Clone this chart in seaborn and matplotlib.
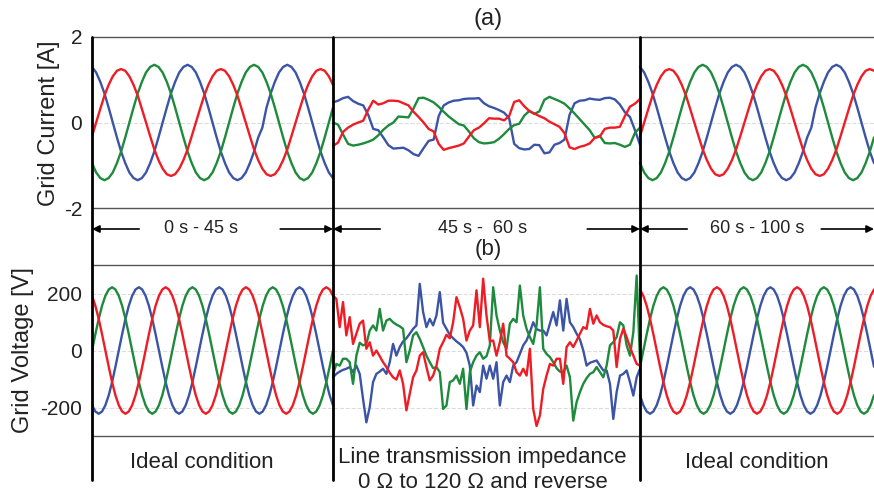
import numpy as np
import pandas as pd
import matplotlib
matplotlib.use("Agg")
import matplotlib.pyplot as plt
from matplotlib.lines import Line2D
import seaborn as sns

sns.set_theme(style="white")
plt.rcParams["font.family"] = ["Liberation Sans", "DejaVu Sans"]

# time axis in display units (one current cycle = 1); three test intervals
seg_edges = [0.0, 2.41, 5.48, 7.82]
seg_names = ["0 s - 45 s", "45 s -  60 s", "60 s - 100 s"]
conditions = ["Ideal condition",
              "Line transmission impedance\n0 \u03a9 to 120 \u03a9 and reverse",
              "Ideal condition"]

# ---- grid current [A] ----
cur1_blue = [1.30, 1.17, 0.95, 0.68, 0.35, 0.00, -0.35, -0.68, -0.95, -1.17, -1.30, -1.35,
             -1.30, -1.17, -0.95, -0.68, -0.35, 0.00, 0.35, 0.68, 0.95, 1.17, 1.30,
             1.35, 1.30, 1.17, 0.95, 0.68, 0.35, 0.00, -0.35, -0.68, -0.95, -1.17, -1.30,
             -1.35, -1.30, -1.17, -0.95, -0.68, -0.35, -0.12, 0.35, 0.68, 0.95, 1.17, 1.30,
             1.35, 1.30, 1.17, 0.95, 0.68, 0.35, 0.00, -0.35, -0.68, -0.95, -1.17, -1.30]
cur1_red = [-0.32, 0.00, 0.32, 0.63, 0.88, 1.08, 1.21,
            1.25, 1.21, 1.08, 0.88, 0.63, 0.32, 0.00, -0.32, -0.63, -0.88, -1.08, -1.21,
            -1.25, -1.21, -1.08, -0.88, -0.63, -0.32, 0.00, 0.32, 0.63, 0.88, 1.08, 1.21,
            1.25, 1.21, 1.08, 0.88, 0.63, 0.32, 0.00, -0.32, -0.63, -0.88, -1.08, -1.21,
            -1.25, -1.21, -1.08, -0.88, -0.63, -0.32, 0.00, 0.32, 0.63, 0.88, 1.08, 1.21,
            1.25, 1.21, 1.08, 0.88]
cur1_green = [-0.95, -1.17, -1.30, -1.35, -1.30, -1.17, -0.95, -0.68, -0.35, 0.00, 0.35,
              0.68, 0.95, 1.17, 1.30,
              1.35, 1.30, 1.17, 0.95, 0.68, 0.35, 0.00, -0.35, -0.68, -0.95, -1.17, -1.30,
              -1.35, -1.30, -1.17, -0.95, -0.68, -0.35, 0.00, 0.35, 0.68, 0.95, 1.17, 1.30,
              1.35, 1.30, 1.17, 0.95, 0.68, 0.35, 0.00, -0.35, -0.68, -0.95, -1.17, -1.30,
              -1.35, -1.30, -1.17, -0.95, -0.68, -0.35, 0.00, 0.35]
cur2_blue = [0.47, 0.51, 0.57, 0.60, 0.50, 0.44, 0.40, 0.18, -0.15, -0.18, -0.35, -0.53,
             -0.61, -0.60, -0.59, -0.65, -0.74, -0.78, -0.60, -0.43, -0.40, 0.15, 0.40, 0.47,
             0.51, 0.52, 0.55, 0.56, 0.56, 0.57, 0.45, 0.38, 0.34, 0.29, 0.23, 0.10,
             -0.50, -0.60, -0.63, -0.62, -0.52, -0.53, -0.72, -0.70, -0.52, -0.48, -0.40, 0.18,
             0.45, 0.51, 0.52, 0.56, 0.54, 0.53, 0.57, 0.58, 0.54, 0.42, 0.24, 0.13, -0.18, -0.52]
cur2_red = [-0.55, -0.47, -0.22, -0.12, -0.05, 0.00, 0.04, 0.30, 0.51, 0.42, 0.45, 0.51,
            0.51, 0.50, 0.45, 0.40, 0.25, 0.13, 0.00, -0.15, -0.21, -0.50, -0.64, -0.60,
            -0.57, -0.54, -0.49, -0.33, -0.18, -0.12, -0.02, 0.10, 0.09, 0.09, 0.05, 0.15,
            0.48, 0.52, 0.38, 0.27, 0.21, 0.15, 0.10, 0.02, -0.04, -0.10, -0.25, -0.58,
            -0.62, -0.57, -0.54, -0.49, -0.36, -0.33, -0.15, -0.12, -0.12, -0.10, 0.15, 0.37, 0.44, 0.55]
cur2_green = [0.00, -0.05, -0.28, -0.50, -0.54, -0.52, -0.49, -0.45, -0.40, -0.30,
              -0.17, -0.07, 0.00, 0.14, 0.13, 0.12, 0.33, 0.57, 0.58, 0.53,
              0.47, 0.37, 0.25, 0.14, 0.05, -0.04, -0.07, -0.21, -0.37, -0.46,
              -0.49, -0.48, -0.46, -0.38, -0.27, -0.15, -0.06, -0.03, 0.16, 0.27,
              0.20, 0.26, 0.53, 0.60, 0.55, 0.50, 0.44, 0.33, 0.21, 0.08,
              -0.05, -0.18, -0.36, -0.31, -0.48, -0.49, -0.48, -0.52, -0.57, -0.52, -0.24, -0.12]
cur3_blue = [1.30, 1.17, 0.95, 0.68, 0.35, 0.00, -0.35, -0.68, -0.95, -1.17, -1.30, -1.35,
             -1.30, -1.17, -0.95, -0.68, -0.35, 0.00, 0.35, 0.68, 0.95, 1.17, 1.30,
             1.35, 1.30, 1.17, 0.95, 0.68, 0.35, 0.00, -0.35, -0.68, -0.95, -1.17, -1.30,
             -1.35, -1.30, -1.17, -0.95, -0.68, -0.35, -0.12, 0.35, 0.68, 0.95, 1.17, 1.30,
             1.35, 1.30, 1.17, 0.95, 0.68, 0.35, 0.00, -0.35, -0.68, -0.95]
cur3_red = [-0.32, 0.00, 0.32, 0.63, 0.88, 1.08, 1.21,
            1.25, 1.21, 1.08, 0.88, 0.63, 0.32, 0.00, -0.32, -0.63, -0.88, -1.08, -1.21,
            -1.25, -1.21, -1.08, -0.88, -0.63, -0.32, 0.00, 0.32, 0.63, 0.88, 1.08, 1.21,
            1.25, 1.21, 1.08, 0.88, 0.63, 0.32, 0.00, -0.32, -0.63, -0.88, -1.08, -1.21,
            -1.25, -1.21, -1.08, -0.88, -0.63, -0.32, 0.00, 0.32, 0.63, 0.88, 1.08, 1.21,
            1.25, 1.21]
cur3_green = [-0.95, -1.17, -1.30, -1.35, -1.30, -1.17, -0.95, -0.68, -0.35, 0.00, 0.35,
              0.68, 0.95, 1.17, 1.30,
              1.35, 1.30, 1.17, 0.95, 0.68, 0.35, 0.00, -0.35, -0.68, -0.95, -1.17, -1.30,
              -1.35, -1.30, -1.17, -0.95, -0.68, -0.35, 0.00, 0.35, 0.68, 0.95, 1.17, 1.30,
              1.35, 1.30, 1.17, 0.95, 0.68, 0.35, 0.00, -0.35, -0.68, -0.95, -1.17, -1.30,
              -1.35, -1.30, -1.17, -0.95, -0.68, -0.35]

# ---- grid voltage [V] ----
volt1_red = [192, 157, 111, 57, 0, -57, -111, -157, -192, -214, -222, -214,
             -192, -157, -111, -57, 0, 57, 111, 157, 192, 214,
             222, 214, 192, 157, 111, 57, 0, -57, -111, -157, -192, -214,
             -222, -214, -192, -157, -111, -57, 0, 57, 111, 157, 192, 214,
             222, 214, 192, 157, 111, 57, 0, -57, -111, -157, -192, -214,
             -222, -214, -192, -157, -111, -57, 0, 57, 111, 157, 192, 214,
             222, 214, 192]
volt1_blue = [-192, -214, -222, -214, -192, -157, -111, -57, 0, 57, 111, 157, 192, 214,
              222, 214, 192, 157, 111, 57, 0, -57, -111, -157, -192, -214,
              -222, -214, -192, -157, -111, -57, 0, 57, 111, 157, 192, 214,
              222, 214, 192, 157, 111, 57, 0, -57, -111, -157, -192, -214,
              -222, -214, -192, -157, -111, -57, 0, 57, 111, 157, 192, 214,
              222, 214, 192, 157, 111, 57, 0, -57, -111, -157, -192]
volt1_green = [0, 57, 111, 157, 192, 214,
               222, 214, 192, 157, 111, 57, 0, -57, -111, -157, -192, -214,
               -222, -214, -192, -157, -111, -57, 0, 57, 111, 157, 192, 214,
               222, 214, 192, 157, 111, 57, 0, -57, -111, -157, -192, -214,
               -222, -214, -192, -157, -111, -57, 0, 57, 111, 157, 192, 214,
               222, 214, 192, 157, 111, 57, 0, -57, -111, -157, -192, -214,
               -222, -214, -192, -157, -111, -57, 0]
volt2_red = [193, 181, 82, 170, 53, 117, 23, 59, 94, 105,
             6, 29, -18, 0, -20, -41, -58, -78, -94, -102,
             -70, -117, -210, -152, -94, -70, -18, -6, -58, -105,
             -88, -53, 6, 29, 55, 43, 99, 187, 152, 111,
             35, 70, 88, 211, 82, 252, 123, 32, 35, -18,
             29, 94, -18, -29, -41, -76, -88, -64, -88, 6,
             -205, -265, -228, -135, -88, -47, -53, -29, -29, -117,
             12, 29, 12, 35, 59, 82, 76, 146, 94, 123,
             99, 90, 85, 82, 70, -58, 41, 76, 47, 12,
             -18, -47, -53]
volt2_blue = [-94, -82, -74, -68, -64, -58, -76, -53, -82, -170,
              -252, -199, -111, -82, -74, -64, -82, -41, 23, -18,
              12, 32, 43, 59, 76, 88, 234, 135, 82, 111,
              88, 123, 205, 97, 76, 55, 43, 32, 23, 12,
              -8, -53, -193, -123, -146, -53, -99, -53, -99, -41,
              -193, -111, -88, -111, -53, -41, -12, 18, 35, 64,
              99, 75, 70, 70, 53, 94, 135, 88, 176, 70,
              181, 99, 82, 59, 39, 0, -53, -43, -39, -35,
              -53, -70, -70, -117, -240, -146, -88, -82, -70, -111,
              -158, -94, -64]
volt2_green = [-85, -47, -53, -29, -29, -41, -117, -18, 27, 18,
               23, 70, 88, 70, 146, 70, 105, 111, 99, 91,
               85, 76, -41, 0, 53, 64, 41, 12, -18, -41,
               -62, -58, -76, -205, -193, -111, -105, -88, -117, -64,
               -205, -76, -41, -18, -6, -29, -20, 18, 222, 123,
               70, 29, 6, 94, 111, 99, 228, 123, 76, 47,
               23, 88, 222, 6, -12, -23, -41, -62, -74, -76,
               -53, -94, -246, -181, -146, -117, -97, -82, -76, -58,
               -76, -94, -53, 18, 29, 47, 99, 88, 18, -18,
               64, 263, -35]
volt3_red = [214, 192, 157, 111, 57, 0, -57, -111, -157, -192, -214, -222,
             -214, -192, -157, -111, -57, 0, 57, 111, 157, 192, 214,
             222, 214, 192, 157, 111, 57, 0, -57, -111, -157, -192, -214,
             -222, -214, -192, -157, -111, -57, 0, 57, 111, 157, 192, 214,
             222, 214, 192, 157, 111, 57, 0, -57, -111, -157, -192, -214,
             -222, -214, -192, -157, -111, -57, 0, 57, 111, 157, 192, 214]
volt3_blue = [-157, -192, -214, -222, -214, -192, -157, -111, -57, 0, 57, 111, 157, 192, 214,
              222, 214, 192, 157, 111, 57, 0, -57, -111, -157, -192, -214,
              -222, -214, -192, -157, -111, -57, 0, 57, 111, 157, 192, 214,
              222, 214, 192, 157, 111, 57, 0, -57, -111, -157, -192, -214,
              -222, -214, -192, -157, -111, -57, 0, 57, 111, 157, 192, 214,
              222, 214, 192, 157, 111, 57, 0, -57]
volt3_green = [-57, 0, 57, 111, 157, 192, 214,
               222, 214, 192, 157, 111, 57, 0, -57, -111, -157, -192, -214,
               -222, -214, -192, -157, -111, -57, 0, 57, 111, 157, 192, 214,
               222, 214, 192, 157, 111, 57, 0, -57, -111, -157, -192, -214,
               -222, -214, -192, -157, -111, -57, 0, 57, 111, 157, 192, 214,
               222, 214, 192, 157, 111, 57, 0, -57, -111, -157, -192, -214,
               -222, -214, -192, -157]

palette = {"blue": "#3B54A6", "green": "#1E8A3C", "red": "#EE1C25"}
phase_order = ["blue", "green", "red"]


def to_frame(segments):
    parts = []
    for s, seg in enumerate(segments):
        for phase, vals in seg.items():
            t = np.linspace(seg_edges[s], seg_edges[s + 1], len(vals))
            parts.append(pd.DataFrame({"t": t, "value": vals, "phase": phase, "segment": s}))
    return pd.concat(parts, ignore_index=True)


current = to_frame([
    {"blue": cur1_blue, "red": cur1_red, "green": cur1_green},
    {"blue": cur2_blue, "red": cur2_red, "green": cur2_green},
    {"blue": cur3_blue, "red": cur3_red, "green": cur3_green},
])
voltage = to_frame([
    {"blue": volt1_blue, "red": volt1_red, "green": volt1_green},
    {"blue": volt2_blue, "red": volt2_red, "green": volt2_green},
    {"blue": volt3_blue, "red": volt3_red, "green": volt3_green},
])

W, H = 874, 493
fig = plt.figure(figsize=(W / 100, H / 100), dpi=100)
ax_a = fig.add_axes([92 / W, 1 - 208 / H, 782 / W, 171 / H])
ax_b = fig.add_axes([92 / W, 1 - 436 / H, 782 / W, 171 / H])

for ax, df, lim, ticks in [(ax_a, current, 2, [-2, 0, 2]), (ax_b, voltage, 300, [-200, 0, 200])]:
    sns.lineplot(data=df, x="t", y="value", hue="phase", units="segment", estimator=None,
                 sort=False, palette=palette, hue_order=phase_order, linewidth=1.7,
                 legend=False, ax=ax)
    ax.set_xlim(seg_edges[0], seg_edges[-1])
    ax.set_ylim(-lim, lim)
    ax.set_yticks(ticks)
    ax.set_yticklabels([str(t) for t in ticks])
    ax.set_xticks([])
    ax.set_xlabel("")
    ax.set_ylabel("")
    ax.tick_params(axis="y", length=0, labelsize=15, pad=7, labelcolor="#222222")
    ax.grid(axis="y", color="#dcdcdc", linestyle="--", linewidth=0.8)
    ax.set_axisbelow(True)
    ax.spines["left"].set_visible(False)
    ax.spines["right"].set_visible(False)
    for sp in ("top", "bottom"):
        ax.spines[sp].set_color("#555555")
        ax.spines[sp].set_linewidth(1.0)

fig.text(49 / W, 1 - 123 / H, "Grid Current [A]", rotation=90, ha="center", va="center",
         fontsize=17, color="#222222")
fig.text(23 / W, 1 - 350 / H, "Grid Voltage [V]", rotation=90, ha="center", va="center",
         fontsize=17, color="#222222")
fig.text(488 / W, 1 - 19 / H, "(a)", ha="center", va="center", fontsize=17, color="#222222")
fig.text(488 / W, 1 - 250 / H, "(b)", ha="center", va="center", fontsize=16, color="#222222")

# thick interval separators, running through both panels
to_fig = fig.transFigure.inverted()
y_top = ax_a.get_position().y1
y_bot = 1 - 480 / H
for e in seg_edges[:-1]:
    xf = to_fig.transform(ax_a.transData.transform((e, 0)))[0]
    fig.add_artist(Line2D([xf, xf], [y_bot, y_top], color="black", linewidth=2.0))

# interval arrows and condition labels
y_arrow = 1 - 229 / H
text_shift = [-11, -4, 0]
arrow_kw = dict(arrowstyle="-|>", color="black", lw=1.2, mutation_scale=11, shrinkA=0, shrinkB=0)
for i, name in enumerate(seg_names):
    lo, hi = seg_edges[i], seg_edges[i + 1]
    mid = (lo + hi) / 2
    ax_a.annotate("", xy=(lo, y_arrow), xycoords=("data", "figure fraction"),
                  xytext=(34, 0), textcoords="offset points", arrowprops=arrow_kw,
                  annotation_clip=False)
    ax_a.annotate("", xy=(hi, y_arrow), xycoords=("data", "figure fraction"),
                  xytext=(-38, 0), textcoords="offset points", arrowprops=arrow_kw,
                  annotation_clip=False)
    ax_a.annotate(name, xy=(mid, y_arrow), xycoords=("data", "figure fraction"),
                  xytext=(text_shift[i] * 0.72, 0.5), textcoords="offset points",
                  ha="center", va="center", fontsize=13, color="#222222", annotation_clip=False)
    y_cond = 1 - (470 if "\n" in conditions[i] else 462) / H
    ax_b.annotate(conditions[i], xy=(mid, y_cond), xycoords=("data", "figure fraction"),
                  xytext=(text_shift[i] * 0.72, 0), textcoords="offset points",
                  ha="center", va="center", fontsize=16, linespacing=1.3,
                  color="#222222", annotation_clip=False)

fig.savefig("out.png", dpi=100)
